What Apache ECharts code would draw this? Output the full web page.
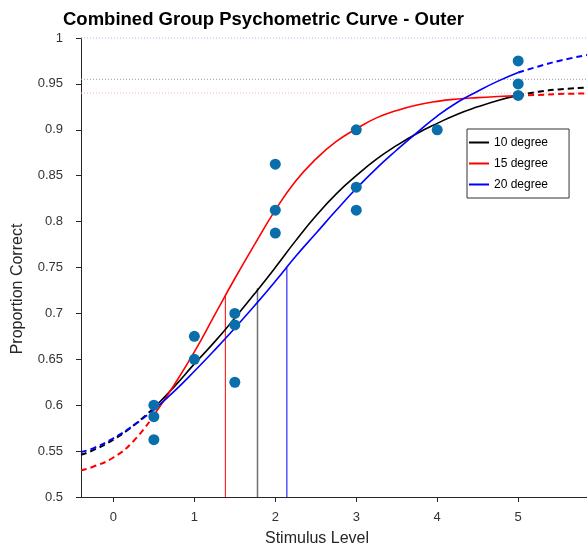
<!DOCTYPE html>
<html>
<head>
<meta charset="utf-8">
<script src="https://cdn.jsdelivr.net/npm/echarts@6/dist/echarts.min.js"></script>
<style>html,body{margin:0;padding:0;background:#fff;}#c{width:587px;height:553px;}</style>
</head>
<body>
<div id="c"></div>
<script>
// ---- data ----
const seriesNames = ['10 degree', '15 degree', '20 degree'];
const lineColors = ['#000000', '#ff0000', '#0000ff'];
const curveX = [-0.4, -0.25, 0, 0.25, 0.5, 0.75, 1, 1.25, 1.5, 1.75, 2, 2.25, 2.5, 2.75, 3, 3.25, 3.5, 3.75, 4, 4.25, 4.5, 4.75, 5, 5.25, 5.5, 5.85];
const curve10 = [0.546, 0.551, 0.5625, 0.578, 0.597, 0.620, 0.645, 0.669, 0.695, 0.722, 0.750, 0.779, 0.806, 0.830, 0.850, 0.868, 0.883, 0.896, 0.907, 0.917, 0.925, 0.932, 0.9375, 0.9415, 0.944, 0.946];
const curve15 = [0.529, 0.533, 0.543, 0.561, 0.589, 0.622, 0.658, 0.698, 0.738, 0.776, 0.8125, 0.844, 0.868, 0.887, 0.901, 0.913, 0.921, 0.927, 0.931, 0.9335, 0.935, 0.9362, 0.9372, 0.938, 0.939, 0.9395];
const curve20 = [0.549, 0.553, 0.564, 0.578, 0.595, 0.615, 0.637, 0.660, 0.684, 0.709, 0.735, 0.762, 0.787, 0.812, 0.836, 0.858, 0.878, 0.897, 0.915, 0.930, 0.942, 0.953, 0.9625, 0.969, 0.975, 0.9815];
const fitRange = [0.5, 5];           // solid inside, dashed outside
const thresholdX = [1.78, 1.383, 2.143];
const thresholdY = [0.7275, 0.72, 0.75];
const asymptoteY = [0.955, 0.94, 1.0];
const asymptoteColors = ['#9a9a9a', '#ffb0b0', '#b8b8ff'];
const pointX = [0.5, 0.5, 0.5, 1, 1, 1.5, 1.5, 1.5, 2, 2, 2, 3, 3, 3, 4, 5, 5, 5];
const pointY = [0.6, 0.5875, 0.5625, 0.675, 0.65, 0.7, 0.6875, 0.625, 0.8625, 0.8125, 0.7875, 0.9, 0.8375, 0.8125, 0.9, 0.975, 0.95, 0.9375];
const xTicks = [0, 1, 2, 3, 4, 5];
const xRange = [-0.4, 5.85];
const yRange = [0.5, 1];

const FONT = "'Liberation Sans', Arial, Helvetica, sans-serif";
const curves = [curve10, curve15, curve20];

function pairs(xs, ys, filt) {
  const out = [];
  for (let i = 0; i < xs.length; i++) if (filt(xs[i])) out.push([xs[i], ys[i]]);
  return out;
}

const series = [];
// asymptote dotted lines
asymptoteY.forEach((y, i) => {
  series.push({
    type: 'line', silent: true, symbol: 'none', clip: false, z: 1,
    data: [[xRange[0], y], [xRange[1], y]],
    lineStyle: { color: asymptoteColors[i], width: 1, type: [1, 2] }
  });
});
// solid fit segments (first, so legend picks them)
curves.forEach((c, i) => {
  series.push({
    name: seriesNames[i], type: 'line', smooth: true, symbol: 'none', z: 3,
    data: pairs(curveX, c, x => x >= fitRange[0] && x <= fitRange[1]),
    lineStyle: { color: lineColors[i], width: 1.6 }, itemStyle: { color: lineColors[i] }
  });
});
// dashed extrapolations
curves.forEach((c, i) => {
  series.push({
    name: seriesNames[i], type: 'line', smooth: true, symbol: 'none', z: 3,
    data: pairs(curveX, c, x => x <= fitRange[0]),
    lineStyle: { color: lineColors[i], width: 2, type: [6, 4] }, itemStyle: { color: lineColors[i] }
  });
  series.push({
    name: seriesNames[i], type: 'line', smooth: true, symbol: 'none', z: 3,
    data: pairs(curveX, c, x => x >= fitRange[1]),
    lineStyle: { color: lineColors[i], width: 2, type: [6, 4] }, itemStyle: { color: lineColors[i] }
  });
});
// threshold verticals
const threshColors = ['#707070', '#ff0000', '#0000ff'];
thresholdX.forEach((x, i) => {
  series.push({
    type: 'line', silent: true, symbol: 'none', z: 2,
    data: [[x, yRange[0]], [x, thresholdY[i]]],
    lineStyle: { color: threshColors[i], width: i === 0 ? 1.5 : 1 }
  });
});
// data points
series.push({
  type: 'scatter', z: 5, symbolSize: 11,
  data: pointX.map((x, i) => [x, pointY[i]]),
  itemStyle: { color: '#0a6eaa', opacity: 1 }
});

const chart = echarts.init(document.getElementById('c'), null, { renderer: 'canvas' });
chart.setOption({
  animation: false,
  backgroundColor: '#ffffff',
  title: {
    text: 'Combined Group Psychometric Curve - Outer',
    left: 58, top: 5,
    textStyle: { fontFamily: FONT, fontSize: 18.5, fontWeight: 'bold', color: '#000' }
  },
  legend: {
    data: seriesNames, left: 467, top: 129, orient: 'vertical',
    icon: 'rect', itemWidth: 20, itemHeight: 2, itemGap: 6,
    padding: [6, 21, 6, 2],
    borderColor: '#333', borderWidth: 1, backgroundColor: '#fff',
    textStyle: { fontFamily: FONT, fontSize: 12, color: '#000', lineHeight: 15 }
  },
  grid: { left: 81, right: 0, top: 38, bottom: 56 },
  xAxis: {
    type: 'value', min: xRange[0], max: xRange[1],
    name: 'Stimulus Level', nameLocation: 'middle', nameGap: 34,
    nameTextStyle: { fontFamily: FONT, fontSize: 16, color: '#262626', padding: [0, 34, 0, 0] },
    axisLine: { show: true, onZero: false, lineStyle: { color: '#262626', width: 1 } },
    axisTick: { show: true, customValues: xTicks, length: 5, lineStyle: { color: '#262626' } },
    axisLabel: { customValues: xTicks, margin: 14, fontFamily: FONT, fontSize: 13, color: '#333' },
    splitLine: { show: false }
  },
  yAxis: {
    type: 'value', min: yRange[0], max: yRange[1], interval: 0.05,
    name: 'Proportion Correct', nameLocation: 'middle', nameGap: 55,
    nameTextStyle: { fontFamily: FONT, fontSize: 16, color: '#262626', padding: [0, 43, 0, 0] },
    axisLine: { show: true, onZero: false, lineStyle: { color: '#262626', width: 1 } },
    axisTick: { show: true, length: 5, lineStyle: { color: '#262626' } },
    axisLabel: { margin: 18, fontFamily: FONT, fontSize: 13, color: '#333',
      formatter: v => String(Math.round(v * 100) / 100) },
    splitLine: { show: false }
  },
  series: series
});
</script>
</body>
</html>
